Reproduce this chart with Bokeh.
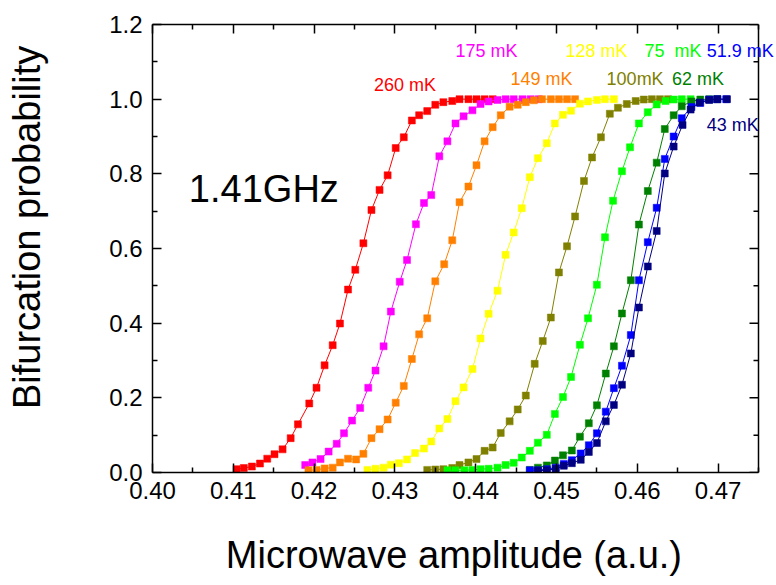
from math import pi
from bokeh.plotting import figure
from bokeh.models import Range1d, FixedTicker, PrintfTickFormatter, LinearAxis, Label, Span
from bokeh.embed import file_html
from bokeh.resources import INLINE

# ---------------- data ----------------
amp_260 = [0.4104, 0.4113, 0.4123, 0.4133, 0.4142, 0.4151, 0.4161, 0.4171, 0.4180, 0.4194, 0.4203,
           0.4213, 0.4223, 0.4232, 0.4242, 0.4251, 0.4261, 0.4271, 0.4281, 0.4291, 0.4301, 0.4311,
           0.4321, 0.4330, 0.4340, 0.4350, 0.4360, 0.4371, 0.4380, 0.4391, 0.4401, 0.4411, 0.4421]
p_260 = [0.009, 0.012, 0.016, 0.024, 0.037, 0.049, 0.062, 0.092, 0.129, 0.185, 0.227,
         0.287, 0.341, 0.399, 0.490, 0.543, 0.614, 0.703, 0.757, 0.796, 0.869, 0.898,
         0.943, 0.957, 0.968, 0.985, 0.992, 0.995, 1.0, 1.0, 1.0, 1.0, 1.0]

amp_175 = [0.4189, 0.4198, 0.4208, 0.4218, 0.4228, 0.4237, 0.4247, 0.4257, 0.4267, 0.4276,
           0.4286, 0.4295, 0.4306, 0.4315, 0.4326, 0.4336, 0.4345, 0.4355, 0.4365, 0.4375,
           0.4385, 0.4396, 0.4406, 0.4416, 0.4427, 0.4437, 0.4447, 0.4458, 0.4468, 0.4478]
p_175 = [0.020, 0.027, 0.036, 0.056, 0.077, 0.105, 0.139, 0.173, 0.227, 0.273,
         0.338, 0.431, 0.511, 0.569, 0.665, 0.722, 0.743, 0.847, 0.887, 0.935,
         0.954, 0.970, 0.987, 0.994, 0.998, 1.0, 1.0, 1.0, 1.0, 1.0]

amp_149 = [0.4193, 0.4203, 0.4213, 0.4223, 0.4232, 0.4242, 0.4252, 0.4261, 0.4271, 0.4281,
           0.4291, 0.4301, 0.4311, 0.4321, 0.4330, 0.4340, 0.4350, 0.4361, 0.4371, 0.4380,
           0.4391, 0.4401, 0.4411, 0.4421, 0.4431, 0.4442, 0.4452, 0.4462, 0.4472, 0.4482,
           0.4493, 0.4503, 0.4513, 0.4523]
p_149 = [0.006, 0.007, 0.011, 0.013, 0.027, 0.037, 0.035, 0.050, 0.092, 0.116,
         0.142, 0.187, 0.232, 0.304, 0.370, 0.413, 0.512, 0.558, 0.622, 0.724,
         0.766, 0.823, 0.887, 0.925, 0.957, 0.980, 0.985, 0.992, 0.997, 1.0,
         1.0, 1.0, 1.0, 1.0]

amp_128 = [0.4266, 0.4276, 0.4286, 0.4295, 0.4305, 0.4315, 0.4325, 0.4336, 0.4345, 0.4355,
           0.4365, 0.4375, 0.4385, 0.4396, 0.4406, 0.4416, 0.4427, 0.4437, 0.4447, 0.4457,
           0.4467, 0.4477, 0.4488, 0.4498, 0.4508, 0.4518, 0.4529, 0.4539, 0.4550, 0.4560, 0.4571]
p_128 = [0.007, 0.010, 0.013, 0.021, 0.025, 0.035, 0.052, 0.064, 0.083, 0.118,
         0.143, 0.191, 0.228, 0.277, 0.359, 0.425, 0.487, 0.583, 0.643, 0.708,
         0.791, 0.842, 0.882, 0.935, 0.958, 0.969, 0.988, 0.994, 0.998, 1.0, 1.0]

amp_100 = [0.4340, 0.4350, 0.4360, 0.4371, 0.4380, 0.4391, 0.4401, 0.4411, 0.4421, 0.4431,
           0.4442, 0.4452, 0.4462, 0.4473, 0.4483, 0.4493, 0.4503, 0.4513, 0.4523, 0.4534,
           0.4544, 0.4555, 0.4566, 0.4576, 0.4587, 0.4598, 0.4608, 0.4618, 0.4628, 0.4638]
p_100 = [0.007, 0.008, 0.009, 0.012, 0.020, 0.027, 0.036, 0.058, 0.067, 0.106,
         0.137, 0.169, 0.206, 0.291, 0.352, 0.415, 0.536, 0.606, 0.686, 0.781,
         0.844, 0.898, 0.961, 0.977, 0.987, 0.995, 0.999, 1.0, 1.0, 1.0]

amp_75 = [0.4365, 0.4375, 0.4386, 0.4396, 0.4406, 0.4416, 0.4427, 0.4437, 0.4447, 0.4457,
          0.4467, 0.4477, 0.4488, 0.4498, 0.4508, 0.4518, 0.4529, 0.4539, 0.4550, 0.4560,
          0.4570, 0.4581, 0.4591, 0.4602, 0.4613, 0.4624, 0.4635, 0.4645, 0.4655, 0.4666]
p_75 = [0.006, 0.006, 0.006, 0.007, 0.009, 0.010, 0.013, 0.020, 0.026, 0.040,
        0.058, 0.080, 0.101, 0.157, 0.202, 0.256, 0.342, 0.413, 0.503, 0.630,
        0.728, 0.807, 0.871, 0.935, 0.965, 0.986, 0.995, 0.999, 1.0, 1.0]

amp_62 = [0.4467, 0.4477, 0.4488, 0.4498, 0.4508, 0.4519, 0.4529, 0.4540, 0.4550, 0.4561,
          0.4571, 0.4581, 0.4592, 0.4602, 0.4613, 0.4624, 0.4634, 0.4645, 0.4655, 0.4667,
          0.4678, 0.4689, 0.4699]
p_62 = [0.007, 0.013, 0.019, 0.032, 0.046, 0.059, 0.096, 0.132, 0.180, 0.265,
        0.338, 0.426, 0.515, 0.664, 0.754, 0.830, 0.920, 0.957, 0.981, 0.994,
        0.999, 1.0, 1.0]

amp_51_9 = [0.4467, 0.4477, 0.4488, 0.4499, 0.4509, 0.4519, 0.4530, 0.4540, 0.4550, 0.4561,
            0.4571, 0.4581, 0.4592, 0.4602, 0.4613, 0.4624, 0.4634, 0.4645, 0.4655, 0.4667,
            0.4678, 0.4689, 0.4699, 0.4710]
p_51_9 = [0.006, 0.006, 0.009, 0.013, 0.023, 0.033, 0.051, 0.073, 0.105, 0.163,
          0.226, 0.286, 0.368, 0.515, 0.617, 0.709, 0.840, 0.900, 0.949, 0.979,
          0.990, 0.999, 1.0, 1.0]

amp_43 = [0.4477, 0.4488, 0.4499, 0.4509, 0.4519, 0.4530, 0.4540, 0.4550, 0.4561, 0.4571,
          0.4581, 0.4592, 0.4602, 0.4613, 0.4624, 0.4634, 0.4645, 0.4656, 0.4666, 0.4677,
          0.4689, 0.4699, 0.4711]
p_43 = [0.005, 0.006, 0.010, 0.018, 0.025, 0.034, 0.055, 0.079, 0.137, 0.181,
        0.235, 0.319, 0.442, 0.552, 0.647, 0.801, 0.873, 0.931, 0.972, 0.991,
        0.998, 1.0, 1.0]

series_labels = ["260 mK", "175 mK", "149 mK", "128 mK", "100mK", "75\u00a0 mK", "62 mK", "51.9 mK", "43 mK"]
x_ticks = [0.40, 0.41, 0.42, 0.43, 0.44, 0.45, 0.46, 0.47]
x_minor = [0.405, 0.415, 0.425, 0.435, 0.445, 0.455, 0.465, 0.475]
y_ticks = [0.0, 0.2, 0.4, 0.6, 0.8, 1.0, 1.2]
y_minor = [0.1, 0.3, 0.5, 0.7, 0.9, 1.1]
X_START, X_END = 0.40, 0.475
Y_START, Y_END = 0.0, 1.2

# ---------------- styling / layout ----------------
FONT = "Liberation Sans"
colors = ["#FF0000", "#FF00FF", "#FF8000", "#FFFF00", "#808000", "#00FF00", "#008000", "#0000FF", "#000080"]
amps = [amp_260, amp_175, amp_149, amp_128, amp_100, amp_75, amp_62, amp_51_9, amp_43]
probs = [p_260, p_175, p_149, p_128, p_100, p_75, p_62, p_51_9, p_43]
# label anchor positions (left, vertical middle) in data coordinates
label_pos = [(0.4274, 1.037), (0.4375, 1.130), (0.4443, 1.053), (0.4511, 1.130), (0.4562, 1.053),
             (0.4609, 1.130), (0.4643, 1.053), (0.4686, 1.130), (0.4686, 0.930)]

W, H = 776, 585
LEFT, TOP, BOTTOM = 152, 24, 113
AXES_W = 606                      # visible axes box width in px
FRAME_W = W - LEFT                # frame runs to the canvas edge so labels can overhang the box
x_end_frame = X_START + (X_END - X_START) * FRAME_W / AXES_W

p = figure(width=W, height=H, output_backend="svg", toolbar_location=None,
           x_range=Range1d(X_START, x_end_frame), y_range=Range1d(Y_START, Y_END),
           min_border_left=LEFT, min_border_right=0, min_border_top=TOP, min_border_bottom=BOTTOM,
           background_fill_color="white", border_fill_color="white")
p.xgrid.grid_line_color = None
p.ygrid.grid_line_color = None
p.outline_line_color = None

bottom = p.below[0]
left = p.left[0]
bottom.ticker = FixedTicker(ticks=x_ticks, minor_ticks=x_minor)
left.ticker = FixedTicker(ticks=y_ticks, minor_ticks=y_minor)
bottom.formatter = PrintfTickFormatter(format="%.2f")
left.formatter = PrintfTickFormatter(format="%.1f")
bottom.bounds = (X_START, X_END)

top = LinearAxis(ticker=FixedTicker(ticks=x_ticks, minor_ticks=x_minor), bounds=(X_START, X_END),
                 major_label_text_font_size="0px", major_label_text_color=None,
                 major_label_standoff=0)
p.add_layout(top, "above")

for ax in [bottom, left, top]:
    ax.axis_line_color = "black"
    ax.axis_line_width = 1.5
    ax.major_tick_in = 9
    ax.major_tick_out = 0
    ax.minor_tick_in = 5
    ax.minor_tick_out = 0
    ax.major_tick_line_width = 1.5
    ax.minor_tick_line_width = 1.5
    ax.major_tick_line_color = "black"
    ax.minor_tick_line_color = "black"

for ax in [bottom, left]:
    ax.major_label_text_font = FONT
    ax.major_label_text_font_size = "24px"
    ax.major_label_text_color = "black"

bottom.major_label_standoff = 9
left.major_label_standoff = 10

bottom.axis_label = "Microwave amplitude (a.u.)\u00a0\u00a0"
left.axis_label = "\u00a0\u00a0\u00a0\u00a0Bifurcation probability"
for ax in [bottom, left]:
    ax.axis_label_text_font = FONT
    ax.axis_label_text_font_size = "38px"
    ax.axis_label_text_font_style = "normal"
    ax.axis_label_text_color = "black"
bottom.axis_label_standoff = 32
left.axis_label_standoff = 58

# right edge of the axes box, with inward ticks
p.add_layout(Span(location=X_END, dimension="height", line_color="black", line_width=1.5))
p.ray(x=[X_END] * len(y_ticks), y=y_ticks, length=9, length_units="screen", angle=pi,
      line_color="black", line_width=1.5)
p.ray(x=[X_END] * len(y_minor), y=y_minor, length=5, length_units="screen", angle=pi,
      line_color="black", line_width=1.5)

for a, pr, c in zip(amps, probs, colors):
    p.line(a, pr, line_color=c, line_width=1)
    p.scatter(a, pr, marker="square", size=7, fill_color=c, line_color=c, line_width=0.5)

for (lx, ly), txt, c in zip(label_pos, series_labels, colors):
    p.add_layout(Label(x=lx, y=ly, text=txt, text_font=FONT, text_font_size="18px",
                       text_color=c, text_baseline="middle", text_align="left"))

p.add_layout(Label(x=0.4045, y=0.760, text="1.41GHz", text_font=FONT, text_font_size="38px",
                   text_color="black", text_baseline="middle", text_align="left"))

open("out.html", "w").write(file_html(p, INLINE))
